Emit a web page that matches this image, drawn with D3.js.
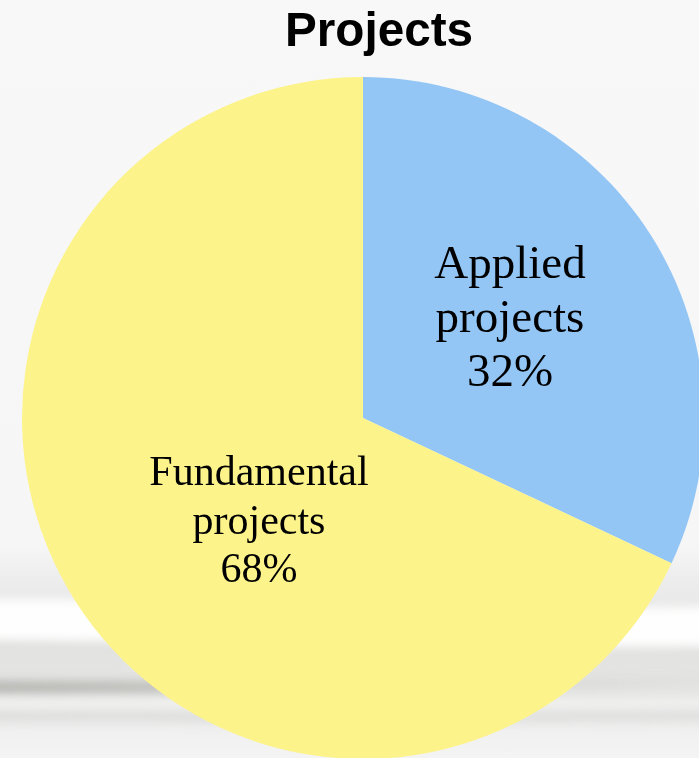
<!DOCTYPE html>
<html>
<head>
<meta charset="utf-8">
<script src="https://cdn.jsdelivr.net/npm/d3@7"></script>
<style>
  html, body { margin: 0; padding: 0; background: #f8f8f8; }
  svg { display: block; }
</style>
</head>
<body>
<svg id="chart" width="699" height="758"></svg>
<script>
// Share of projects by type
const categories = ["Applied projects", "Fundamental projects"];
const shares = [32, 68];
const labelLines = [["Applied", "projects", "32%"], ["Fundamental", "projects", "68%"]];
const sliceColors = ["#93c6f5", "#fdf38b"];
const chartTitle = "Projects";

const W = 699, H = 758;
const cx = 363, cy = 418, radius = 341;

const svg = d3.select("#chart");
const defs = svg.append("defs");

// Backdrop: pale grey, with soft grey/white swooshes along the bottom
const bg = defs.append("linearGradient").attr("id", "bgGrad")
  .attr("x1", 0).attr("y1", 0).attr("x2", 0).attr("y2", 1);
[[0, "#f8f8f8"], [0.72, "#f6f6f6"], [0.77, "#ececec"], [0.85, "#e2e2e1"], [0.92, "#e6e6e5"], [0.97, "#f1f1f1"], [1, "#f4f4f4"]]
  .forEach(([o, c]) => bg.append("stop").attr("offset", o).attr("stop-color", c));
defs.append("filter").attr("id", "soft").attr("x", "-20%").attr("y", "-50%").attr("width", "140%").attr("height", "200%")
  .append("feGaussianBlur").attr("stdDeviation", 5);

// Dark band fades out towards the right
const darkGrad = defs.append("linearGradient").attr("id", "darkGrad")
  .attr("x1", 0).attr("y1", 0).attr("x2", 1).attr("y2", 0);
[[0, "#b3b3af", 0.95], [0.5, "#bdbdb9", 0.7], [1, "#d6d6d4", 0.2]]
  .forEach(([o, c, op]) => darkGrad.append("stop").attr("offset", o).attr("stop-color", c).attr("stop-opacity", op));

svg.append("rect").attr("width", W).attr("height", H).attr("fill", "url(#bgGrad)");
const swoosh = svg.append("g").attr("filter", "url(#soft)");
// white highlight band
swoosh.append("path")
  .attr("d", "M-40,600 C150,596 450,612 740,606 L740,646 C450,650 150,640 -40,640 Z")
  .attr("fill", "#ffffff").attr("opacity", 0.95);
// darker streak on the left
swoosh.append("path")
  .attr("d", "M-40,681 C150,680 400,684 740,676 L740,684 C400,694 150,694 -40,694 Z")
  .attr("fill", "url(#darkGrad)");
// thin light streak below it
swoosh.append("path")
  .attr("d", "M-40,697 C200,698 450,700 740,698 L740,706 C450,708 200,708 -40,707 Z")
  .attr("fill", "#f4f4f3").attr("opacity", 0.8);
// faint grey streak
swoosh.append("path")
  .attr("d", "M-40,712 C200,712 450,714 740,712 L740,720 C450,722 200,722 -40,721 Z")
  .attr("fill", "#d4d4d2").attr("opacity", 0.6);

// Pie
const pie = d3.pie().sort(null).value(d => d.value);
const arc = d3.arc().innerRadius(0).outerRadius(radius);
const data = categories.map((c, i) => ({ name: c, value: shares[i], color: sliceColors[i], lines: labelLines[i] }));
const arcs = pie(data);

const g = svg.append("g").attr("transform", `translate(${cx},${cy})`);
g.selectAll("path.slice").data(arcs).enter().append("path")
  .attr("class", "slice")
  .attr("d", arc)
  .attr("fill", d => d.data.color);

// Slice labels (serif, stacked lines)
const labelSpec = [
  { x: 510, y: 278, size: 47, gap: 54 },
  { x: 259, y: 485, size: 42, gap: 48.5 }
];
arcs.forEach((a, i) => {
  const s = labelSpec[i];
  const t = svg.append("text")
    .attr("text-anchor", "middle")
    .attr("font-family", "'Liberation Serif', 'Times New Roman', serif")
    .attr("font-size", s.size)
    .attr("fill", "#000");
  a.data.lines.forEach((line, k) => {
    t.append("tspan").attr("x", s.x).attr("y", s.y + k * s.gap).text(line);
  });
});

// Title
svg.append("text")
  .attr("x", 379).attr("y", 46)
  .attr("text-anchor", "middle")
  .attr("font-family", "'Liberation Sans', Arial, sans-serif")
  .attr("font-weight", 700)
  .attr("font-size", 49)
  .attr("textLength", 188)
  .attr("lengthAdjust", "spacingAndGlyphs")
  .attr("fill", "#000")
  .text(chartTitle);
</script>
</body>
</html>
